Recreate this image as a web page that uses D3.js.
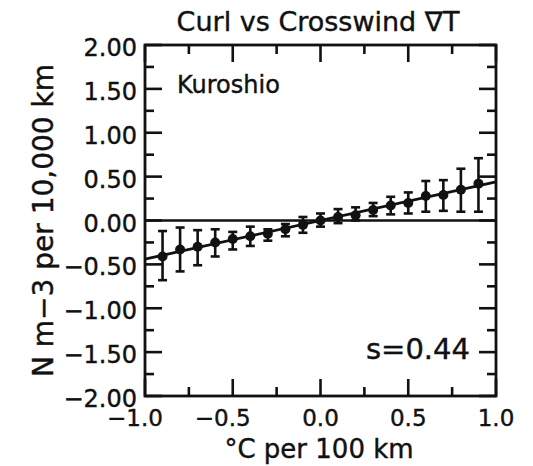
<!DOCTYPE html>
<html>
<head>
<meta charset="utf-8">
<script src="https://cdn.jsdelivr.net/npm/d3@7"></script>
<style>
  body { margin: 0; background: #fff; }
  text { font-family: "DejaVu Sans", sans-serif; fill: #111; stroke: #111; stroke-width: 0.4px; }
</style>
</head>
<body>
<div id="vis"></div>
<script>
// data
var gradT = [-0.9, -0.8, -0.7, -0.6, -0.5, -0.4, -0.3, -0.2, -0.1, 0.0, 0.1, 0.2, 0.3, 0.4, 0.5, 0.6, 0.7, 0.8, 0.9];
var curlMean = [-0.41, -0.33, -0.30, -0.25, -0.21, -0.18, -0.15, -0.10, -0.05, 0.00, 0.04, 0.06, 0.12, 0.17, 0.20, 0.28, 0.29, 0.35, 0.42];
var curlHigh = [-0.12, -0.08, -0.11, -0.10, -0.13, -0.07, -0.10, -0.04, 0.04, 0.08, 0.13, 0.15, 0.20, 0.27, 0.32, 0.45, 0.46, 0.59, 0.71];
var curlLow = [-0.68, -0.58, -0.51, -0.41, -0.33, -0.29, -0.23, -0.18, -0.14, -0.07, -0.03, 0.00, 0.05, 0.07, 0.08, 0.10, 0.11, 0.10, 0.10];
var fitSlope = 0.44;
var fitIntercept = 0.0;
var xTicks = [-1.0, -0.5, 0.0, 0.5, 1.0];
var yTicks = [-2.0, -1.5, -1.0, -0.5, 0.0, 0.5, 1.0, 1.5, 2.0];

var width = 533, height = 466;
var plot = {left: 145, right: 496, top: 45, bottom: 396};
var majorLen = 17, minorLen = 9;

var x = d3.scaleLinear().domain([-1, 1]).range([plot.left, plot.right]);
var y = d3.scaleLinear().domain([-2, 2]).range([plot.bottom, plot.top]);

var svg = d3.select("#vis").append("svg")
    .attr("width", width)
    .attr("height", height);

var fmtX = d3.format(".1f"), fmtY = d3.format(".2f");
function minus(s) { return s.replace("-", "\u2212"); }

/* ticks pointing inward on all four sides */
var xMinor = d3.range(-1, 1.001, 0.25);
var yMinor = d3.range(-2, 2.001, 0.25);
function isMajor(v, step) { return Math.abs(v / step - Math.round(v / step)) < 1e-6; }

var ticks = svg.append("g").attr("stroke", "#111").attr("stroke-width", 2.6);
xMinor.forEach(function(v) {
    var len = isMajor(v, 0.5) ? majorLen : minorLen;
    ticks.append("line").attr("x1", x(v)).attr("x2", x(v)).attr("y1", plot.bottom).attr("y2", plot.bottom - len);
    ticks.append("line").attr("x1", x(v)).attr("x2", x(v)).attr("y1", plot.top).attr("y2", plot.top + len);
});
yMinor.forEach(function(v) {
    var len = isMajor(v, 0.5) ? majorLen : minorLen;
    ticks.append("line").attr("y1", y(v)).attr("y2", y(v)).attr("x1", plot.left).attr("x2", plot.left + len);
    ticks.append("line").attr("y1", y(v)).attr("y2", y(v)).attr("x1", plot.right).attr("x2", plot.right - len);
});

/* frame */
svg.append("rect")
    .attr("x", plot.left).attr("y", plot.top)
    .attr("width", plot.right - plot.left).attr("height", plot.bottom - plot.top)
    .attr("fill", "none").attr("stroke", "#111").attr("stroke-width", 2.8);

/* tick labels */
svg.selectAll(".ylab").data(yTicks).enter().append("text")
    .attr("class", "ylab")
    .attr("x", plot.left - 8)
    .attr("y", function(d) { return y(d) + 11; })
    .attr("text-anchor", "end")
    .attr("font-size", 24)
    .text(function(d) { return minus(fmtY(d)); });

svg.selectAll(".xlab").data(xTicks).enter().append("text")
    .attr("class", "xlab")
    .attr("x", function(d) { return x(d) - (d < 0 ? 10 : 0); })
    .attr("y", plot.bottom + 30)
    .attr("text-anchor", "middle")
    .attr("font-size", 23)
    .text(function(d) { return minus(fmtX(d)); });

/* zero line */
svg.append("line")
    .attr("x1", x(-1)).attr("x2", x(1))
    .attr("y1", y(0)).attr("y2", y(0))
    .attr("stroke", "#111").attr("stroke-width", 2.4);

/* fitted line */
svg.append("line")
    .attr("x1", x(-1)).attr("x2", x(1))
    .attr("y1", y(fitIntercept - fitSlope)).attr("y2", y(fitIntercept + fitSlope))
    .attr("stroke", "#111").attr("stroke-width", 2.8);

/* error bars */
var bars = svg.append("g").attr("stroke", "#111").attr("stroke-width", 2.6);
gradT.forEach(function(v, i) {
    var cx = x(v);
    bars.append("line").attr("x1", cx).attr("x2", cx).attr("y1", y(curlHigh[i])).attr("y2", y(curlLow[i]));
    bars.append("line").attr("x1", cx - 4.5).attr("x2", cx + 4.5).attr("y1", y(curlHigh[i])).attr("y2", y(curlHigh[i]));
    bars.append("line").attr("x1", cx - 4.5).attr("x2", cx + 4.5).attr("y1", y(curlLow[i])).attr("y2", y(curlLow[i]));
});

svg.selectAll(".pt").data(gradT).enter().append("circle")
    .attr("class", "pt")
    .attr("cx", function(d) { return x(d); })
    .attr("cy", function(d, i) { return y(curlMean[i]); })
    .attr("r", 5)
    .attr("fill", "#111");

/* texts */
svg.append("text")
    .attr("x", 318).attr("y", 31)
    .attr("text-anchor", "middle")
    .attr("font-size", 27)
    .text("Curl vs Crosswind \u2207T");

svg.append("text")
    .attr("x", 177).attr("y", 93)
    .attr("font-size", 24)
    .text("Kuroshio");

svg.append("text")
    .attr("x", 470).attr("y", 359)
    .attr("text-anchor", "end")
    .attr("font-size", 29)
    .text("s=0.44");

svg.append("text")
    .attr("x", 319).attr("y", 458)
    .attr("text-anchor", "middle")
    .attr("font-size", 26)
    .text("\u00b0C per 100 km");

svg.append("text")
    .attr("transform", "translate(53," + ((plot.top + plot.bottom) / 2) + ") rotate(-90)")
    .attr("text-anchor", "middle")
    .attr("font-size", 28)
    .text("N m\u22123 per 10,000 km");
</script>
</body>
</html>
